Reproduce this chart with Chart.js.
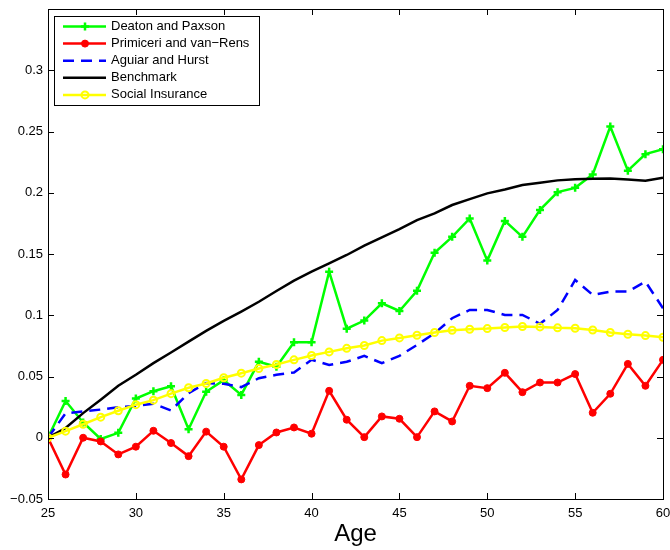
<!DOCTYPE html>
<html>
<head>
<meta charset="utf-8">
<title>Consumption profiles by age</title>
<script src="https://cdn.jsdelivr.net/npm/chart.js@4.4.0/dist/chart.umd.min.js"></script>
<style>
  html, body { margin: 0; padding: 0; background: #fff; }
</style>
</head>
<body>
<canvas id="agechart" width="670" height="550"></canvas>
<script>
"use strict";

/* data */
var ages = [25, 26, 27, 28, 29, 30, 31, 32, 33, 34, 35, 36, 37, 38, 39, 40, 41, 42,
            43, 44, 45, 46, 47, 48, 49, 50, 51, 52, 53, 54, 55, 56, 57, 58, 59, 60];

var deatonPaxson = [0, 0.030, 0.0125, -0.001, 0.004, 0.032, 0.038, 0.042, 0.007, 0.0375,
                    0.047, 0.035, 0.062, 0.058, 0.078, 0.078, 0.1356, 0.089, 0.0957, 0.1098,
                    0.1035, 0.120, 0.151, 0.164, 0.179, 0.1446, 0.177, 0.164, 0.186, 0.2005,
                    0.204, 0.215, 0.254, 0.218, 0.2315, 0.2356];

var primiceriVanRens = [0, -0.030, 0.000, -0.003, -0.0136, -0.0073, 0.0057, -0.0043, -0.015, 0.005,
                        -0.0073, -0.034, -0.006, 0.0043, 0.0084, 0.0033, 0.0383, 0.0147, 0.0005, 0.0174,
                        0.0155, 0.0005, 0.0215, 0.0133, 0.0424, 0.0405, 0.053, 0.0372, 0.0451, 0.0451,
                        0.052, 0.0204, 0.0359, 0.0603, 0.0424, 0.0636];

var aguiarHurst = [0, 0.020, 0.0215, 0.023, 0.025, 0.026, 0.0277, 0.0223, 0.0364, 0.0446,
                   0.0440, 0.0413, 0.0486, 0.0514, 0.0533, 0.0636, 0.0595, 0.062, 0.0668, 0.0609,
                   0.0668, 0.0758, 0.0853, 0.0976, 0.1043, 0.1043, 0.1003, 0.1003, 0.093, 0.1043,
                   0.1288, 0.1166, 0.1193, 0.1193, 0.1274, 0.1057];

var benchmark = [0, 0.0079, 0.0201, 0.031, 0.0424, 0.0514, 0.0609, 0.0696, 0.0785, 0.0872,
                 0.0954, 0.103, 0.111, 0.1198, 0.1283, 0.1356, 0.1424, 0.1492, 0.1568, 0.1636,
                 0.1704, 0.1777, 0.1832, 0.190, 0.1948, 0.1995, 0.2027, 0.2063, 0.2082, 0.2101,
                 0.2111, 0.2114, 0.2117, 0.2109, 0.2098, 0.2122];

var socialInsurance = [0, 0.0054, 0.011, 0.0168, 0.022, 0.027, 0.0307, 0.036, 0.0408, 0.0443,
                       0.049, 0.0527, 0.0565, 0.0598, 0.0636, 0.0671, 0.0701, 0.073, 0.0753, 0.0793,
                       0.0815, 0.0837, 0.0859, 0.0878, 0.0886, 0.0891, 0.090, 0.0908, 0.0905, 0.0897,
                       0.0894, 0.088, 0.0859, 0.0845, 0.0834, 0.082];

var xTicks = [25, 30, 35, 40, 45, 50, 55, 60];
var yTicks = [-0.05, 0, 0.05, 0.1, 0.15, 0.2, 0.25, 0.3];
var yTickLabels = ['\u22120.05', '0', '0.05', '0.1', '0.15', '0.2', '0.25', '0.3'];

var FONT = '"Liberation Sans", Arial, Helvetica, sans-serif';

function pairs(values) {
    return ages.map(function (a, i) { return { x: a, y: values[i] }; });
}

/* box with inward tick marks on all four sides */
var boxTicks = {
    id: 'boxTicks',
    afterDatasetsDraw: function (chart) {
        var ctx = chart.ctx, a = chart.chartArea;
        var xs = chart.scales.x, ys = chart.scales.y;
        var len = 6;
        ctx.save();
        ctx.strokeStyle = '#000';
        ctx.lineWidth = 1;
        ctx.beginPath();
        xTicks.forEach(function (v) {
            var px = Math.round(xs.getPixelForValue(v)) + 0.5;
            ctx.moveTo(px, a.bottom); ctx.lineTo(px, a.bottom - len);
            ctx.moveTo(px, a.top); ctx.lineTo(px, a.top + len);
        });
        yTicks.forEach(function (v) {
            var py = Math.round(ys.getPixelForValue(v)) + 0.5;
            ctx.moveTo(a.left, py); ctx.lineTo(a.left + len, py);
            ctx.moveTo(a.right, py); ctx.lineTo(a.right - len, py);
        });
        ctx.stroke();
        ctx.strokeRect(Math.round(a.left) + 0.5, Math.round(a.top) + 0.5,
                       Math.round(a.right - a.left), Math.round(a.bottom - a.top));
        ctx.restore();
    }
};

/* legend box in the upper left corner, line sample with marker */
var boxLegend = {
    id: 'boxLegend',
    afterDraw: function (chart) {
        var ctx = chart.ctx, a = chart.chartArea;
        var x0 = a.left + 6, y0 = a.top + 7, w = 205, rowH = 17.1, h = 89;
        ctx.save();
        ctx.fillStyle = '#fff';
        ctx.fillRect(x0, y0, w, h);
        ctx.strokeStyle = '#000';
        ctx.lineWidth = 1;
        ctx.strokeRect(x0 + 0.5, y0 + 0.5, w, h);
        ctx.font = '13px ' + FONT;
        ctx.textBaseline = 'middle';
        chart.data.datasets.forEach(function (ds, i) {
            var cy = y0 + 10.5 + i * rowH;
            ctx.save();
            ctx.strokeStyle = ds.borderColor;
            ctx.lineWidth = ds.borderWidth;
            ctx.setLineDash(ds.borderDash || []);
            ctx.beginPath();
            ctx.moveTo(x0 + 9, cy);
            ctx.lineTo(x0 + 52, cy);
            ctx.stroke();
            ctx.restore();
            if (ds.pointRadius > 0) {
                ctx.save();
                ctx.strokeStyle = ds.pointBorderColor;
                ctx.fillStyle = ds.pointBackgroundColor;
                ctx.lineWidth = ds.pointBorderWidth;
                Chart.helpers.drawPoint(ctx, {
                    pointStyle: ds.pointStyle,
                    radius: ds.pointRadius,
                    borderWidth: ds.pointBorderWidth,
                    rotation: 0
                }, x0 + 31, cy);
                ctx.restore();
            }
            ctx.fillStyle = '#000';
            ctx.fillText(ds.label, x0 + 57, cy);
        });
        ctx.restore();
    }
};

var ctx = document.getElementById('agechart').getContext('2d');

new Chart(ctx, {
    type: 'line',
    data: {
        datasets: [{
            label: 'Deaton and Paxson',
            data: pairs(deatonPaxson),
            borderColor: '#00ff00',
            borderWidth: 2.5,
            pointStyle: 'cross',
            pointRadius: 4,
            pointBorderWidth: 2.5,
            pointBorderColor: '#00ff00',
            pointBackgroundColor: '#00ff00',
            tension: 0,
            order: 5
        }, {
            label: 'Primiceri and van\u2212Rens',
            data: pairs(primiceriVanRens),
            borderColor: '#ff0000',
            borderWidth: 2.5,
            pointStyle: 'circle',
            pointRadius: 3.5,
            pointBorderWidth: 1,
            pointBorderColor: '#ff0000',
            pointBackgroundColor: '#ff0000',
            tension: 0,
            order: 4
        }, {
            label: 'Aguiar and Hurst',
            data: pairs(aguiarHurst),
            borderColor: '#0000ff',
            borderWidth: 2.5,
            borderDash: [11, 7],
            pointRadius: 0,
            tension: 0,
            order: 3
        }, {
            label: 'Benchmark',
            data: pairs(benchmark),
            borderColor: '#000000',
            borderWidth: 2.5,
            pointRadius: 0,
            tension: 0,
            order: 2
        }, {
            label: 'Social Insurance',
            data: pairs(socialInsurance),
            borderColor: '#ffff00',
            borderWidth: 2.5,
            pointStyle: 'circle',
            pointRadius: 3.5,
            pointBorderWidth: 2,
            pointBorderColor: '#ffff00',
            pointBackgroundColor: 'rgba(255, 255, 255, 0)',
            tension: 0,
            order: 1
        }]
    },
    options: {
        responsive: false,
        animation: false,
        layout: {
            padding: { top: 9, right: 7, left: 0, bottom: 0 }
        },
        plugins: {
            legend: { display: false },
            tooltip: { enabled: false }
        },
        scales: {
            x: {
                type: 'linear',
                min: 25,
                max: 60,
                grid: { display: false, drawTicks: false },
                border: { display: false },
                afterBuildTicks: function (scale) {
                    scale.ticks = xTicks.map(function (v) { return { value: v }; });
                },
                afterFit: function (scale) {
                    scale.height = 51;
                    scale.paddingLeft = 0;
                    scale.paddingRight = 0;
                },
                ticks: {
                    padding: 7,
                    color: '#000',
                    maxRotation: 0,
                    font: { family: FONT, size: 13 },
                    callback: function (value) { return String(value); }
                },
                title: {
                    display: true,
                    text: 'Age',
                    color: '#000',
                    padding: { top: 0, bottom: 1 },
                    font: { family: FONT, size: 24 }
                }
            },
            y: {
                min: -0.05,
                max: 0.35,
                grid: { display: false, drawTicks: false },
                border: { display: false },
                afterBuildTicks: function (scale) {
                    scale.ticks = yTicks.map(function (v) { return { value: v }; });
                },
                afterFit: function (scale) {
                    scale.width = 48;
                    scale.paddingTop = 0;
                    scale.paddingBottom = 0;
                },
                ticks: {
                    padding: 5,
                    color: '#000',
                    font: { family: FONT, size: 13 },
                    callback: function (value, index) { return yTickLabels[index]; }
                }
            }
        }
    },
    plugins: [boxTicks, boxLegend]
});
</script>
</body>
</html>
